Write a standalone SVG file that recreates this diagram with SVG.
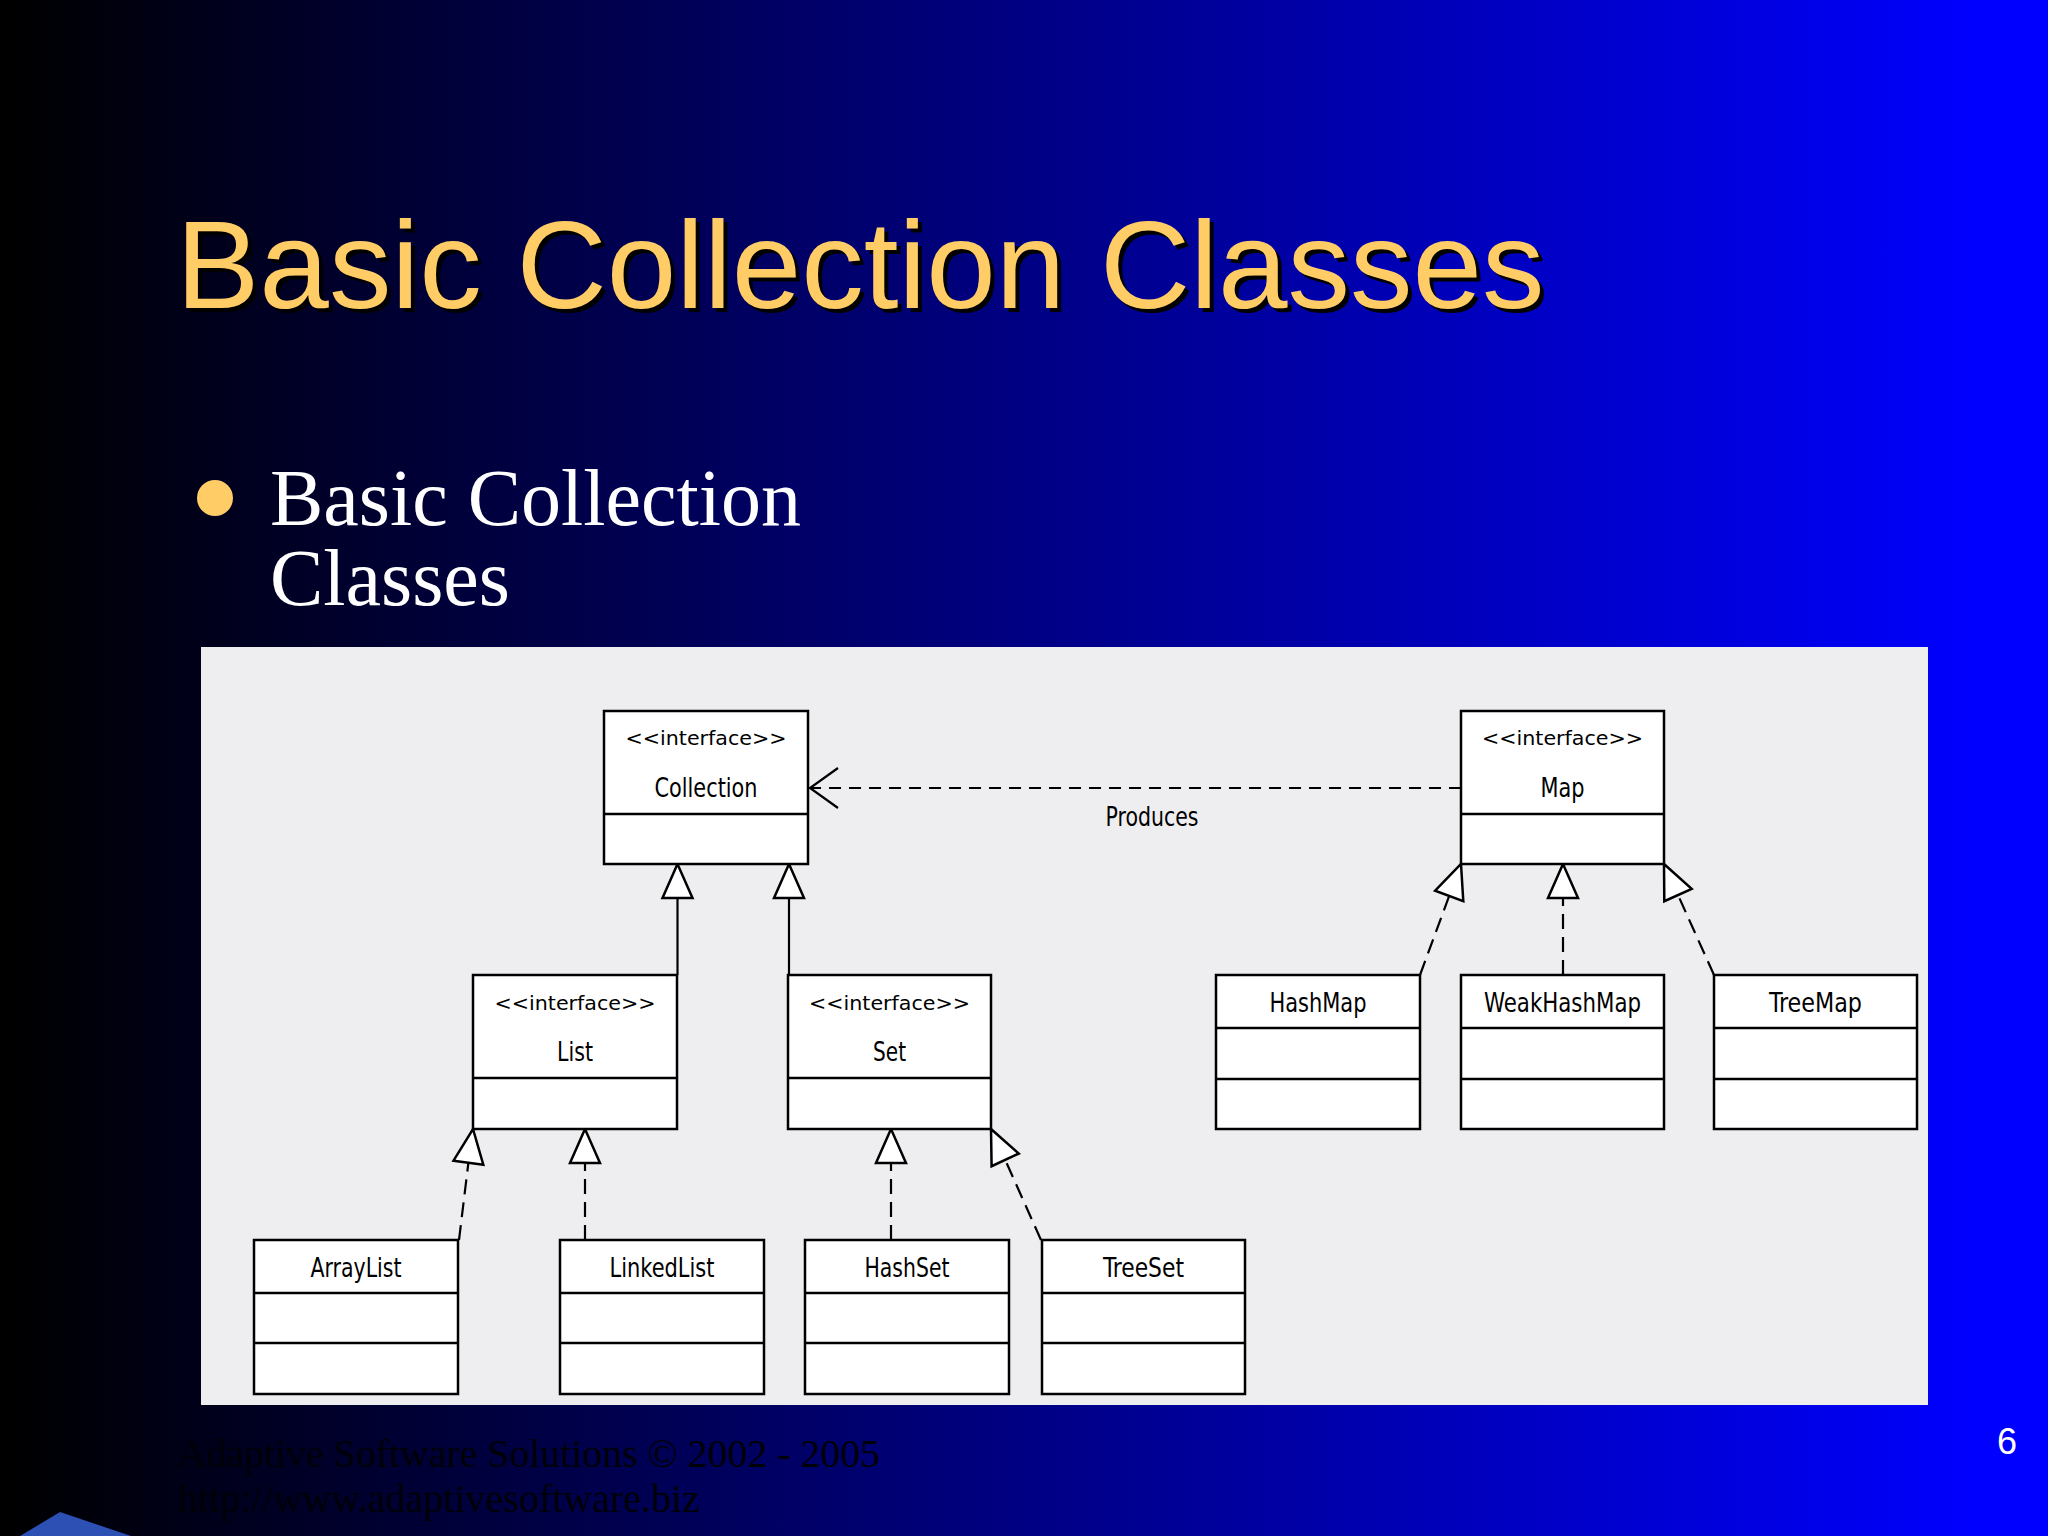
<svg xmlns="http://www.w3.org/2000/svg" width="2048" height="1536" viewBox="0 0 2048 1536">
<defs>
<linearGradient id="bg" x1="0" y1="0" x2="1" y2="0">
<stop offset="0" stop-color="#000000"/>
<stop offset="0.97" stop-color="#0000ff"/>
<stop offset="1" stop-color="#0000ff"/>
</linearGradient>
<style>
.title{font-family:"Liberation Sans",Arial,sans-serif;font-size:125px;fill:#ffcc66}
.shadow{font-family:"Liberation Sans",Arial,sans-serif;font-size:125px;fill:#000000}
.bul{font-family:"Liberation Serif","Times New Roman",serif;font-size:80px;fill:#ffffff}
.foot{font-family:"Liberation Serif","Times New Roman",serif;font-size:40px;fill:#000008}
.box{fill:#ffffff;stroke:#000000;stroke-width:2.5}
.div{stroke:#000000;stroke-width:2.5;fill:none}
.t{font-family:"DejaVu Sans Condensed","DejaVu Sans",sans-serif;font-stretch:condensed;font-size:23px;fill:#000000;text-anchor:middle}
.st{font-family:"DejaVu Sans Condensed","DejaVu Sans",sans-serif;font-stretch:condensed;font-size:20px;fill:#000000;text-anchor:middle}
.solid{stroke:#000000;stroke-width:2.2;fill:none}
.dash{stroke:#000000;stroke-width:2.2;fill:none;stroke-dasharray:15 8}
.dep{stroke:#000000;stroke-width:2.2;fill:none;stroke-dasharray:12 8}
.tri{fill:#ffffff;stroke:#000000;stroke-width:2.5;stroke-linejoin:miter}
</style>
</defs>
<rect x="0" y="0" width="2048" height="1536" fill="url(#bg)"/>
<polygon points="20,1536 60,1512 131,1536" fill="#2d50b4"/>

<text class="shadow" x="180" y="312">Basic Collection Classes</text>
<text class="title" x="176" y="308">Basic Collection Classes</text>

<circle cx="215" cy="498" r="18" fill="#ffcc66"/>
<text class="bul" x="270" y="525">Basic Collection</text>
<text class="bul" x="270" y="605">Classes</text>

<rect x="201" y="647" width="1727" height="758" fill="#eeeef0"/>

<g id="connectors">
<line class="dep" x1="1461" y1="788" x2="812" y2="788"/>
<polyline class="solid" points="838,768 810,788 838,808"/>
<text class="t" transform="matrix(1 0 0 1.15 1152 826)" textLength="93" lengthAdjust="spacingAndGlyphs">Produces</text>

<line class="solid" x1="677.5" y1="975" x2="677.5" y2="898"/>
<polygon class="tri" points="677.5,864 662.5,898 692.5,898"/>
<line class="solid" x1="789" y1="975" x2="789" y2="898"/>
<polygon class="tri" points="789,864 774,898 804,898"/>

<line class="dash" x1="459" y1="1240" x2="468.4" y2="1162.7"/>
<polygon class="tri" points="473,1129 483.3,1164.7 453.5,1160.7"/>
<line class="dash" x1="585" y1="1240" x2="585" y2="1163"/>
<polygon class="tri" points="585,1129 570,1163 600,1163"/>

<line class="dash" x1="891" y1="1240" x2="891" y2="1163"/>
<polygon class="tri" points="891,1129 876,1163 906,1163"/>
<line class="dash" x1="1041" y1="1240" x2="1005.2" y2="1159.9"/>
<polygon class="tri" points="991,1129 1018.8,1153.6 991.6,1166.2"/>

<line class="dash" x1="1420" y1="975" x2="1449.2" y2="895.9"/>
<polygon class="tri" points="1461,864 1463.3,901.1 1435.1,890.7"/>
<line class="dash" x1="1563" y1="975" x2="1563" y2="898"/>
<polygon class="tri" points="1563,864 1548,898 1578,898"/>
<line class="dash" x1="1714" y1="975" x2="1678" y2="895"/>
<polygon class="tri" points="1664,864 1691.7,888.8 1664.3,901.2"/>
</g>

<g id="Collection">
<rect class="box" x="604" y="711" width="204" height="153"/>
<line class="div" x1="604" y1="814" x2="808" y2="814"/>
<text class="st" x="706" y="745" textLength="161" lengthAdjust="spacingAndGlyphs">&lt;&lt;interface&gt;&gt;</text>
<text class="t" transform="matrix(1 0 0 1.15 706 797)" textLength="103" lengthAdjust="spacingAndGlyphs">Collection</text>
</g>
<g id="Map">
<rect class="box" x="1461" y="711" width="203" height="153"/>
<line class="div" x1="1461" y1="814" x2="1664" y2="814"/>
<text class="st" x="1562.5" y="745" textLength="161" lengthAdjust="spacingAndGlyphs">&lt;&lt;interface&gt;&gt;</text>
<text class="t" transform="matrix(1 0 0 1.15 1562.5 797)" textLength="44" lengthAdjust="spacingAndGlyphs">Map</text>
</g>
<g id="List">
<rect class="box" x="473" y="975" width="204" height="154"/>
<line class="div" x1="473" y1="1078" x2="677" y2="1078"/>
<text class="st" x="575" y="1010" textLength="161" lengthAdjust="spacingAndGlyphs">&lt;&lt;interface&gt;&gt;</text>
<text class="t" transform="matrix(1 0 0 1.15 575 1061)" textLength="36" lengthAdjust="spacingAndGlyphs">List</text>
</g>
<g id="Set">
<rect class="box" x="788" y="975" width="203" height="154"/>
<line class="div" x1="788" y1="1078" x2="991" y2="1078"/>
<text class="st" x="889.5" y="1010" textLength="161" lengthAdjust="spacingAndGlyphs">&lt;&lt;interface&gt;&gt;</text>
<text class="t" transform="matrix(1 0 0 1.15 889.5 1061)" textLength="33" lengthAdjust="spacingAndGlyphs">Set</text>
</g>
<g id="HashMap">
<rect class="box" x="1216" y="975" width="204" height="154"/>
<line class="div" x1="1216" y1="1028" x2="1420" y2="1028"/>
<line class="div" x1="1216" y1="1079" x2="1420" y2="1079"/>
<text class="t" transform="matrix(1 0 0 1.15 1318 1012)" textLength="97" lengthAdjust="spacingAndGlyphs">HashMap</text>
</g>
<g id="WeakHashMap">
<rect class="box" x="1461" y="975" width="203" height="154"/>
<line class="div" x1="1461" y1="1028" x2="1664" y2="1028"/>
<line class="div" x1="1461" y1="1079" x2="1664" y2="1079"/>
<text class="t" transform="matrix(1 0 0 1.15 1562.5 1012)" textLength="157" lengthAdjust="spacingAndGlyphs">WeakHashMap</text>
</g>
<g id="TreeMap">
<rect class="box" x="1714" y="975" width="203" height="154"/>
<line class="div" x1="1714" y1="1028" x2="1917" y2="1028"/>
<line class="div" x1="1714" y1="1079" x2="1917" y2="1079"/>
<text class="t" transform="matrix(1 0 0 1.15 1815.5 1012)" textLength="93" lengthAdjust="spacingAndGlyphs">TreeMap</text>
</g>
<g id="ArrayList">
<rect class="box" x="254" y="1240" width="204" height="154"/>
<line class="div" x1="254" y1="1293" x2="458" y2="1293"/>
<line class="div" x1="254" y1="1343" x2="458" y2="1343"/>
<text class="t" transform="matrix(1 0 0 1.15 356 1277)" textLength="91" lengthAdjust="spacingAndGlyphs">ArrayList</text>
</g>
<g id="LinkedList">
<rect class="box" x="560" y="1240" width="204" height="154"/>
<line class="div" x1="560" y1="1293" x2="764" y2="1293"/>
<line class="div" x1="560" y1="1343" x2="764" y2="1343"/>
<text class="t" transform="matrix(1 0 0 1.15 662 1277)" textLength="105" lengthAdjust="spacingAndGlyphs">LinkedList</text>
</g>
<g id="HashSet">
<rect class="box" x="805" y="1240" width="204" height="154"/>
<line class="div" x1="805" y1="1293" x2="1009" y2="1293"/>
<line class="div" x1="805" y1="1343" x2="1009" y2="1343"/>
<text class="t" transform="matrix(1 0 0 1.15 907 1277)" textLength="85" lengthAdjust="spacingAndGlyphs">HashSet</text>
</g>
<g id="TreeSet">
<rect class="box" x="1042" y="1240" width="203" height="154"/>
<line class="div" x1="1042" y1="1293" x2="1245" y2="1293"/>
<line class="div" x1="1042" y1="1343" x2="1245" y2="1343"/>
<text class="t" transform="matrix(1 0 0 1.15 1143.5 1277)" textLength="81" lengthAdjust="spacingAndGlyphs">TreeSet</text>
</g>

<text class="foot" x="178" y="1467" textLength="702" lengthAdjust="spacingAndGlyphs">Adaptive Software Solutions © 2002 - 2005</text>
<text class="foot" x="178" y="1512" textLength="522" lengthAdjust="spacingAndGlyphs">http://www.adaptivesoftware.biz</text>
<text x="2007" y="1454" font-family="Liberation Sans,Arial,sans-serif" font-size="36" fill="#ffffff" text-anchor="middle">6</text>
</svg>
